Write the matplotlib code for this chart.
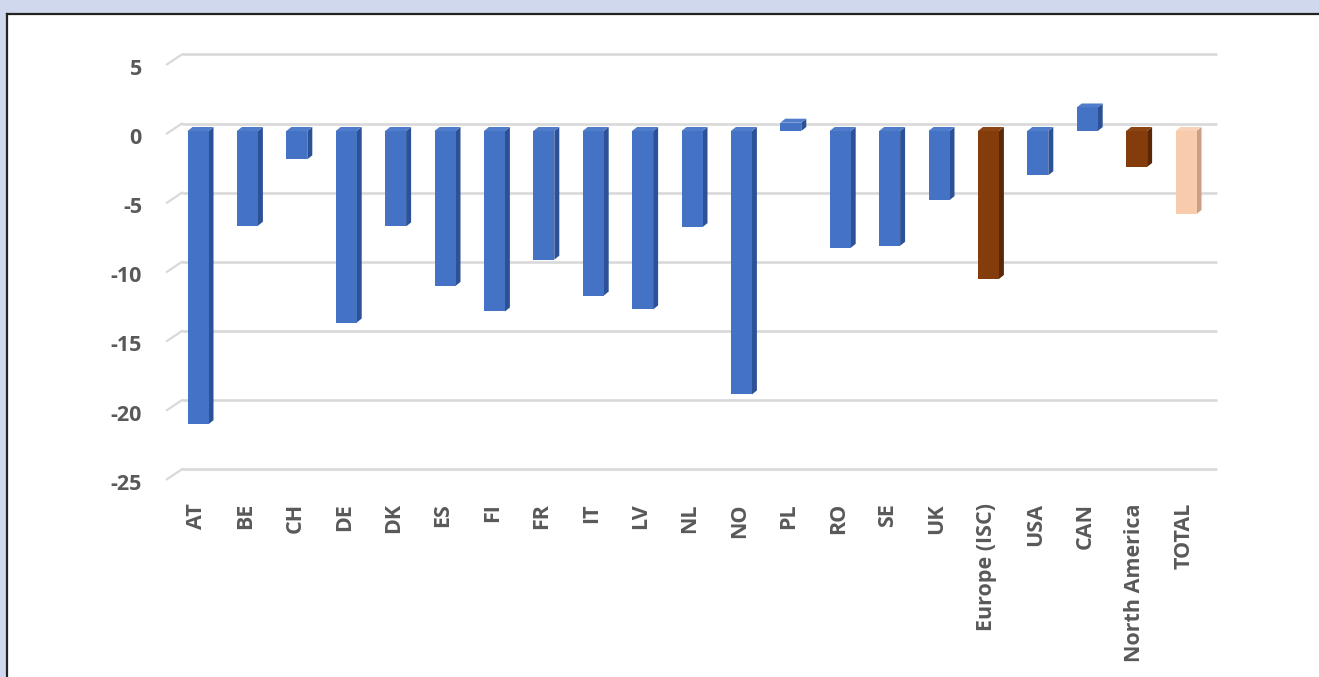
import matplotlib
matplotlib.use("Agg")
import matplotlib.pyplot as plt
from matplotlib.patches import Polygon, Rectangle
from matplotlib.lines import Line2D

# ---- data -------------------------------------------------------------
categories = ["AT", "BE", "CH", "DE", "DK", "ES", "FI", "FR", "IT", "LV", "NL",
              "NO", "PL", "RO", "SE", "UK", "Europe (ISC)", "USA", "CAN",
              "North America", "TOTAL"]
values = [-21.2, -6.85, -2.05, -13.85, -6.9, -11.2, -13.05, -9.3, -11.9, -12.9,
          -6.95, -19.05, 0.6, -8.45, -8.3, -5.0, -10.7, -3.2, 1.7, -2.6, -6.0]
groups = ["country"] * 16 + ["region", "country", "country", "region", "total"]
y_ticks = [5, 0, -5, -10, -15, -20, -25]

# ---- styling ----------------------------------------------------------
front_col = {"country": "#4472C4", "region": "#843C0C", "total": "#F8CBAD"}
side_col = {"country": "#2C5196", "region": "#5A2806", "total": "#C9A083"}
top_col = {"country": "#4F7CCB", "region": "#8E4514", "total": "#F9D3B8"}
text_col = "#595959"
grid_col = "#D9D9D9"
FONT = "Open Sans"
FS = 15.5

W, H = 1319, 677
fig = plt.figure(figsize=(W / 100, H / 100), dpi=100)
fig.patch.set_facecolor("white")

# pixel geometry of the plotting plane
PX_CAT = 49.4          # pixels per category
PX_UNIT = 13.83        # pixels per value unit
X0_PX = 198.0          # centre of first category
Y0_PX = 131.0          # value zero (from top)
L_PX, R_PX, T_PX, B_PX = 150.0, 1230.0, 35.0, 500.0

ax = fig.add_axes([L_PX / W, 1 - B_PX / H, (R_PX - L_PX) / W, (B_PX - T_PX) / H])
ax.set_xlim((L_PX - X0_PX) / PX_CAT, (R_PX - X0_PX) / PX_CAT)
ax.set_ylim((Y0_PX - B_PX) / PX_UNIT, (Y0_PX - T_PX) / PX_UNIT)
ax.axis("off")


def dx(px):
    return px / PX_CAT


def dy(px):
    return px / PX_UNIT


# back-wall gridlines with the short floor diagonal on the left
wall_up = dy(7.5)
x_back_l, x_back_r = dx(182 - X0_PX), dx(1217 - X0_PX)
x_front_l = dx(167 - X0_PX)
for t in y_ticks:
    yb = t + wall_up
    ax.add_line(Line2D([x_back_l, x_back_r], [yb, yb], color=grid_col, lw=1.9,
                       zorder=1, solid_capstyle="butt"))
    ax.add_line(Line2D([x_front_l, x_back_l], [yb - dy(10), yb], color=grid_col,
                       lw=1.6, zorder=1))
    ax.text(dx(142 - X0_PX), yb - dy(15), f"{t}", ha="right", va="center",
            fontsize=FS, fontweight="bold", color=text_col, family=FONT,
            clip_on=False)

# 3-D style columns
bw = dx(21)
ddx, ddy = dx(5), dy(4)
xs = list(range(len(categories)))
fronts = ax.bar(xs, values, width=bw, color=[front_col[g] for g in groups],
                edgecolor="none", zorder=3)
for x, v, g in zip(xs, values, groups):
    x0, x1 = x - bw / 2, x + bw / 2
    side = [(x1, 0), (x1, v), (x1 + ddx, v + ddy), (x1 + ddx, ddy)]
    ytop = max(v, 0)
    top = [(x0, ytop), (x1, ytop), (x1 + ddx, ytop + ddy), (x0 + ddx, ytop + ddy)]
    ax.add_patch(Polygon(side, closed=True, fc=side_col[g], ec="none", zorder=2.9))
    ax.add_patch(Polygon(top, closed=True, fc=top_col[g], ec="none", zorder=3.1))

# category labels
ylab = (Y0_PX - 503) / PX_UNIT
for x, c in zip(xs, categories):
    ax.text(x - dx(2), ylab, c, rotation=90, ha="center", va="top",
            fontsize=FS, fontweight="bold", color=text_col, family=FONT,
            clip_on=False)

# page frame: tinted header strip and left margin with dark rule
band = "#CFD8EC"
fig.add_artist(Rectangle((0, 1 - 13 / H), 1, 13 / H, transform=fig.transFigure,
                         fc=band, ec="none", zorder=0))
fig.add_artist(Rectangle((0, 0), 6 / W, 1, transform=fig.transFigure,
                         fc=band, ec="none", zorder=0))
fig.add_artist(Line2D([6.5 / W, 1], [1 - 14 / H, 1 - 14 / H], transform=fig.transFigure,
                      color="#222222", lw=1.6))
fig.add_artist(Line2D([7 / W, 7 / W], [0, 1 - 14 / H], transform=fig.transFigure,
                      color="#222222", lw=1.6))

fig.savefig("out.png", dpi=100)
